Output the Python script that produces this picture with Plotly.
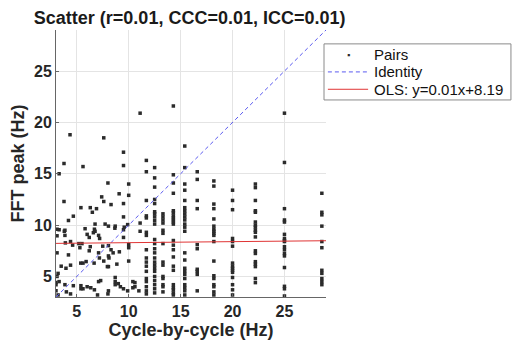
import plotly.graph_objects as go

# Loose points (cycle-by-cycle estimate, FFT peak), both in Hz
loose_cbc = [4.35, 7.6, 9.5, 11.1, 3.77, 5.6, 9.5, 3.3, 8.0, 10.0, 9.08, 10.0, 7.4, 7.6, 3.77,
             8.3, 5.4, 6.3, 6.5, 6.9, 4.67, 4.2, 9.5, 6.76, 7.73, 8.05, 8.7, 9.9, 3.1, 3.86,
             3.86, 3.1, 5.8, 6.0, 6.2, 7.1, 7.2, 6.76, 9.5, 9.5, 11.1, 11.1, 4.4, 4.6, 5.5,
             6.3, 7.5, 8.05, 8.3, 8.05, 8.5, 8.1, 10.0, 10.0, 9.1, 10.0, 3.1, 4.2, 5.3, 5.38,
             5.6, 5.9, 6.67, 7.18, 8.05, 8.86, 3.5, 3.96, 4.4, 6.2, 7.1, 3.2, 3.1, 3.3, 3.0,
             3.0, 3.86, 4.67, 5.4, 5.6, 6.35, 6.7, 7.1, 8.05, 8.7, 8.7, 8.7, 9.5, 9.9, 10.4,
             10.6, 10.6, 10.98, 9.5, 8.67, 9.57, 6.7, 6.6, 3.3, 3.8, 3.9, 5.2, 7.6, 7.95,
             3.2, 4.4, 7.0, 8.0, 5.4, 6.0, 9.0, 10.4, 3.0, 4.0, 7.3, 9.2]
loose_fft = [18.8, 18.5, 17.1, 20.9, 16.0, 15.7, 15.8, 15.0, 14.1, 14.0, 13.05, 12.9, 12.75, 12.3, 12.3,
             12.0, 11.7, 11.7, 11.25, 11.6, 10.87, 10.45, 10.8, 10.1, 10.1, 9.9, 9.9, 10.05, 9.6, 9.5,
             9.0, 8.96, 9.65, 9.1, 8.8, 9.0, 8.7, 9.4, 9.55, 8.8, 10.2, 9.4, 8.4, 8.05, 8.2,
             7.9, 7.95, 8.0, 7.6, 7.0, 7.3, 6.8, 8.1, 7.8, 7.4, 6.5, 7.3, 7.1, 7.8, 6.3,
             6.3, 6.45, 6.3, 6.8, 5.96, 6.2, 6.0, 5.8, 6.1, 7.5, 7.3, 5.3, 5.0, 4.5, 4.4,
             4.2, 4.2, 4.1, 3.8, 3.8, 3.9, 3.7, 4.5, 3.6, 4.9, 4.5, 4.2, 3.8, 3.6, 4.5,
             4.4, 4.0, 3.6, 12.1, 9.7, 9.8, 9.6, 9.26, 9.55, 9.4, 8.27, 8.2, 6.5, 5.96,
             3.2, 3.3, 3.2, 3.3, 4.1, 4.0, 4.3, 3.9, 3.6, 3.5, 4.6, 4.0]

# Points that fall on repeated cycle-by-cycle values
column_cbc = [11.7, 12.5, 13.3, 14.3, 15.4, 16.6, 18.2, 20.0, 22.2, 25.0, 28.6]
column_fft = [
    [16.3, 15.2, 12.4, 10.9, 10.7, 9.3, 9.0, 7.6, 6.8, 6.4, 6.0, 5.5, 4.8, 4.5, 4.0, 3.6, 3.3],
    [15.6, 14.6, 13.7, 12.5, 12.1, 11.3, 11.1, 10.8, 10.45, 10.1, 8.6, 8.2, 7.7, 7.3, 6.8, 6.4,
     6.1, 5.8, 5.5, 5.0, 4.6, 4.2, 3.8, 3.4],
    [11.1, 10.8, 10.5, 10.2, 9.5, 9.2, 8.2, 6.4, 6.1, 5.0, 4.8, 4.2, 4.0, 3.5],
    [21.6, 14.9, 14.1, 13.1, 11.4, 11.2, 10.9, 10.7, 10.5, 10.3, 10.1, 8.5, 8.05, 7.6, 6.9, 6.0,
     5.6, 4.2, 3.9, 3.7, 3.4, 3.2],
    [17.7, 15.6, 14.0, 13.4, 12.4, 11.7, 11.4, 11.1, 10.8, 10.5, 10.1, 9.8, 9.4, 7.3, 6.6, 5.8,
     5.5, 5.2, 4.8, 4.2, 3.9, 3.6, 3.2],
    [15.2, 14.45, 12.4, 11.6, 8.1, 7.7, 5.7, 5.5, 5.2, 3.6],
    [14.3, 13.8, 12.05, 11.6, 10.6, 9.9, 9.6, 9.4, 9.2, 9.0, 8.4, 6.5, 5.07, 4.8, 4.2, 4.0, 3.5, 3.2],
    [13.4, 12.4, 11.5, 8.7, 8.4, 7.95, 6.3, 6.0, 5.8, 5.6, 5.4, 4.9, 4.2, 3.7, 3.2],
    [14.0, 13.65, 12.4, 11.4, 11.25, 10.3, 10.0, 9.8, 9.5, 9.3, 8.85, 7.5, 7.24, 6.44, 6.2, 5.96,
     4.8, 4.4],
    [20.9, 16.1, 11.6, 10.5, 10.3, 9.1, 8.7, 8.5, 8.4, 7.9, 7.6, 7.24, 7.0, 5.87, 4.04, 3.8, 3.1],
    [13.1, 11.25, 11.0, 9.9, 8.4, 7.8, 5.6, 5.3, 4.8, 4.5, 4.2],
]

axis_limits = [3, 29]
tick_values = [5, 10, 15, 20, 25]
ols_slope = 0.01
ols_intercept = 8.19
stats_r, stats_ccc, stats_icc = 0.01, 0.01, 0.01

PAIR_COLOR = "#2b2b2b"
IDENTITY_COLOR = "#5a5af0"
OLS_COLOR = "#e03535"

cbc = list(loose_cbc)
fft = list(loose_fft)
for cx, ys in zip(column_cbc, column_fft):
    cbc += [cx] * len(ys)
    fft += ys

ols_label = f"OLS: y={ols_slope:.2f}x+{ols_intercept:.2f}"

fig = go.Figure()
fig.add_trace(go.Scatter(
    x=cbc, y=fft, mode="markers", name="Pairs",
    marker=dict(symbol="square", size=3.5, color=PAIR_COLOR),
))
fig.add_trace(go.Scatter(
    x=axis_limits, y=axis_limits, mode="lines", name="Identity",
    line=dict(color=IDENTITY_COLOR, width=1, dash="4px,3px"),
))
fig.add_trace(go.Scatter(
    x=axis_limits, y=[ols_slope * v + ols_intercept for v in axis_limits],
    mode="lines", name=ols_label,
    line=dict(color=OLS_COLOR, width=1),
))

axis_style = dict(
    range=axis_limits, tickvals=tick_values, showgrid=True, gridcolor="#e4e4e4",
    gridwidth=1, zeroline=False, showline=True, linecolor="#666666", linewidth=1,
    ticks="inside", ticklen=3, tickcolor="#666666",
    tickfont=dict(family="Liberation Sans", size=16, color="#262626", weight="bold"),
)

# Compact boxed legend beside the axes (paper coordinates)
box_x0, box_x1, box_y0, box_y1 = 0.9926, 1.685, 0.738, 0.948
row_y = [0.908, 0.843, 0.778]
sample_x0, sample_x1, text_x = 1.007, 1.156, 1.170

shapes = [dict(type="rect", xref="paper", yref="paper", x0=box_x0, x1=box_x1,
               y0=box_y0, y1=box_y1, line=dict(color="#8a8a8a", width=1),
               fillcolor="white", layer="above")]
shapes.append(dict(type="line", xref="paper", yref="paper", x0=sample_x0, x1=sample_x1,
                   y0=row_y[1], y1=row_y[1],
                   line=dict(color=IDENTITY_COLOR, width=1, dash="4px,3px"), layer="above"))
shapes.append(dict(type="line", xref="paper", yref="paper", x0=sample_x0, x1=sample_x1,
                   y0=row_y[2], y1=row_y[2], line=dict(color=OLS_COLOR, width=1), layer="above"))

annotations = [
    dict(text="▪", xref="paper", yref="paper", x=(sample_x0 + sample_x1) / 2, y=row_y[0],
         xanchor="center", yanchor="middle", showarrow=False,
         font=dict(size=9, color=PAIR_COLOR)),
]
for label, yy in zip(["Pairs", "Identity", ols_label], row_y):
    annotations.append(dict(text=label, xref="paper", yref="paper", x=text_x, y=yy,
                            xanchor="left", yanchor="middle", showarrow=False,
                            font=dict(size=15, color="#111111")))

fig.update_layout(
    width=519, height=349,
    margin=dict(l=56, r=193, t=30, b=48),
    paper_bgcolor="white", plot_bgcolor="white",
    font=dict(family="Liberation Sans", color="#262626"),
    title=dict(
        text=f"Scatter (r={stats_r:.2f}, CCC={stats_ccc:.2f}, ICC={stats_icc:.2f})",
        xref="paper", x=0.495, xanchor="center",
        yref="container", y=0.95, yanchor="middle",
        font=dict(size=18, weight="bold", color="#1a1a1a"),
    ),
    xaxis=dict(axis_style, title=dict(text="Cycle-by-cycle (Hz)", standoff=4,
                                      font=dict(size=18, weight="bold"))),
    yaxis=dict(axis_style, title=dict(text="FFT peak (Hz)", standoff=4,
                                      font=dict(size=18, weight="bold"))),
    shapes=shapes,
    annotations=annotations,
    showlegend=False,
)

fig.write_html("out.html")
